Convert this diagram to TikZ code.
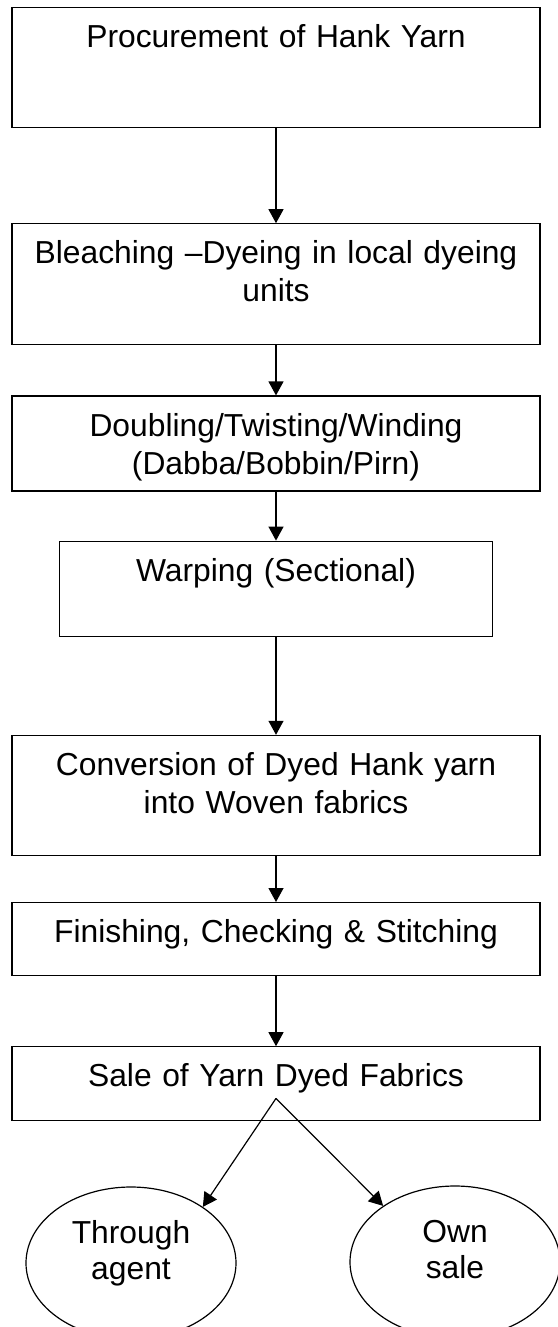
\documentclass[tikz,border=0pt]{standalone}
\usepackage{fontspec}
\setmainfont{Liberation Sans}
\usetikzlibrary{arrows.meta,positioning,shapes.geometric}

\newcommand{\uppad}{\rule{0pt}{20pt}}
\newcommand{\lowpad}[1]{\rule[-#1]{0pt}{#1}}

\begin{document}
\begin{tikzpicture}[->,>={Triangle[length=7pt,width=7.5pt]},line width=0.6pt,
	main node/.style={draw,rectangle,inner xsep=0pt,inner ysep=0pt,text width=264pt,
		align=center,font=\fontsize{15.9}{19}\selectfont},
	end node/.style={draw,ellipse,minimum width=105pt,minimum height=76pt,inner sep=0pt,
		align=center,font=\fontsize{15.9}{18}\selectfont}]
\useasboundingbox (0,0) rectangle (278.5pt,-663.5pt);
\node[main node,anchor=north] (1) at (138pt,-3.5pt) {\uppad Procurement of Hank Yarn\lowpad{40pt}};
\node[main node] (2) [below=47.5pt of 1] {\uppad Bleaching –Dyeing in local dyeing\\units\lowpad{21.5pt}};
\node[main node] (3) [below=25pt of 2] {\uppad Doubling/Twisting/Winding\\(Dabba/Bobbin/Pirn)\lowpad{8.5pt}};
\node[main node,text width=216.5pt] (4) [below=24.5pt of 3] {\uppad Warping (Sectional)\lowpad{27.5pt}};
\node[main node] (5) [below=49pt of 4] {\uppad Conversion of Dyed Hank yarn\\into Woven fabrics\lowpad{21pt}};
\node[main node] (6) [below=23pt of 5] {\uppad Finishing, Checking \& Stitching\lowpad{16.5pt}};
\node[main node] (7) [below=35pt of 6] {\uppad Sale of Yarn Dyed Fabrics\lowpad{17pt}};
\node[end node] (8) [below=32.5pt of 7,xshift=-72.5pt] {Through\\agent\lowpad{13pt}};
\node[end node] (9) [below=32pt of 7,xshift=89.5pt] {Own\\sale\lowpad{13pt}};
\coordinate (s) at ([yshift=11.5pt]7.south);
\path (1) edge (2)
	(2) edge (3)
	(3) edge (4)
	(4) edge (5)
	(5) edge (6)
	(6) edge (7)
	(s) edge (8.38)
	    edge (9.142);
\end{tikzpicture}
\end{document}
